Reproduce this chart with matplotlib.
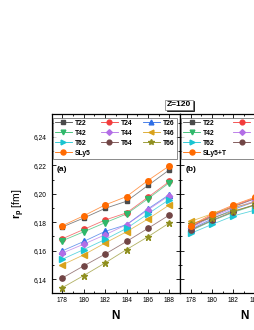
import matplotlib
matplotlib.use("Agg")
import matplotlib.pyplot as plt
from matplotlib.ticker import MultipleLocator, FuncFormatter
import matplotlib.transforms as mtransforms

plt.rcParams['font.family'] = ['Liberation Sans', 'DejaVu Sans']
plt.rcParams['mathtext.fontset'] = 'custom'
plt.rcParams['mathtext.rm'] = 'Liberation Sans'
plt.rcParams['mathtext.bf'] = 'Liberation Sans:bold'

# ---------------- data ----------------
N = [178, 180, 182, 184, 186, 188]
labels = ['T22', 'T24', 'T26', 'T42', 'T44', 'T46', 'T62', 'T64', 'T66']

a_T22 = [6.1767, 6.1830, 6.1898, 6.1948, 6.2059, 6.2169]
a_T24 = [6.1684, 6.1750, 6.1816, 6.1866, 6.1976, 6.2087]
a_T26 = [6.1599, 6.1665, 6.1736, 6.1783, 6.1894, 6.1995]
a_T42 = [6.1670, 6.1733, 6.1797, 6.1858, 6.1965, 6.2078]
a_T44 = [6.1583, 6.1646, 6.1712, 6.1783, 6.1887, 6.1988]
a_T46 = [6.1500, 6.1571, 6.1654, 6.1733, 6.1823, 6.1922]
a_T62 = [6.1540, 6.1608, 6.1679, 6.1757, 6.1859, 6.1960]
a_T64 = [6.1408, 6.1493, 6.1576, 6.1665, 6.1757, 6.1851]
a_T66 = [6.1340, 6.1425, 6.1514, 6.1608, 6.1698, 6.1795]
a_SLy5 = [6.1776, 6.1846, 6.1922, 6.1981, 6.2094, 6.2197]

b_T22 = [6.1765, 6.1845, 6.1910, 6.1965, 6.2020, 6.2070]
b_T24 = [6.1770, 6.1850, 6.1915, 6.1970, 6.2025, 6.2075]
b_T26 = [6.1750, 6.1825, 6.1890, 6.1945, 6.2000, 6.2050]
b_T42 = [6.1740, 6.1810, 6.1870, 6.1920, 6.1970, 6.2020]
b_T44 = [6.1760, 6.1838, 6.1900, 6.1950, 6.2005, 6.2055]
b_T46 = [6.1806, 6.1860, 6.1905, 6.1940, 6.1985, 6.2030]
b_T62 = [6.1722, 6.1785, 6.1845, 6.1885, 6.1935, 6.1985]
b_T64 = [6.1745, 6.1815, 6.1875, 6.1925, 6.1975, 6.2025]
b_T66 = [6.1790, 6.1830, 6.1880, 6.1920, 6.1965, 6.2010]
b_SLy5T = [6.1776, 6.1858, 6.1922, 6.1976, 6.2030, 6.2080]

# ---------------- styles ----------------
colors = {'T22': '#4a4a4a', 'T24': '#f23c3c', 'T26': '#2e6ee6',
          'T42': '#2fb86a', 'T44': '#b36ee6', 'T46': '#d9a21b',
          'T62': '#19c4d1', 'T64': '#714545', 'T66': '#8f8f1f',
          'ref': '#ff6a00'}
markers = {'T22': 's', 'T24': 'o', 'T26': '^', 'T42': 'v', 'T44': 'D',
           'T46': '<', 'T62': '>', 'T64': 'o', 'T66': '*', 'ref': 'o'}
msize = {'T22': 3.4, 'T24': 3.8, 'T26': 3.8, 'T42': 3.8, 'T44': 3.2,
         'T46': 3.8, 'T62': 3.8, 'T64': 3.8, 'T66': 4.6, 'ref': 4.0}

W, H = 255, 330
fig = plt.figure(figsize=(W / 100, H / 100), dpi=100)
left, right_a = 51.7, 180.0
top, bot = 114.3, 293.3
aw = (right_a - left) / W
ah = (bot - top) / H
ax_a = fig.add_axes([left / W, 1 - bot / H, aw, ah])
ax_b = fig.add_axes([right_a / W, 1 - bot / H, aw, ah])


def draw(ax, series, reflabel, tag):
    for lab, vals in series:
        key = 'ref' if lab == reflabel else lab
        c = colors[key]
        ax.plot(N, vals, color=c, lw=0.6, alpha=0.7, zorder=2)
        ax.plot(N, vals, ls='none', marker=markers[key], ms=msize[key],
                color=c, mec=c, zorder=3)
    handles = []
    for lab, vals in series:
        key = 'ref' if lab == reflabel else lab
        c = colors[key]
        h, = ax.plot([], [], color=c, lw=0.6, marker=markers[key],
                     ms=msize[key] * 0.9, mec=c, label=lab)
        handles.append(h)
    order = [0, 3, 6, 9, 1, 4, 7, 2, 5, 8]
    hs = [handles[i] for i in order]
    ls = [series[i][0] for i in order]
    leg = ax.legend(hs, ls, ncol=3, loc='upper left',
                    bbox_to_anchor=(0.008, 0.982, 0.966, 0), mode='expand',
                    prop={'weight': 'bold', 'size': 4.9},
                    frameon=True, fancybox=False, edgecolor='#333333',
                    handlelength=2.5, handletextpad=0.45, labelspacing=0.45,
                    borderpad=0.3, borderaxespad=0, columnspacing=0.6)
    leg.get_frame().set_linewidth(0.5)
    ax.text(0.04, 0.69, tag, transform=ax.transAxes, fontsize=6,
            fontweight='bold', ha='left', va='center')
    ax.set_xlim(177, 189)
    ax.set_ylim(6.13, 6.256)
    ax.xaxis.set_major_locator(MultipleLocator(2))
    ax.xaxis.set_minor_locator(MultipleLocator(1))
    ax.yaxis.set_major_locator(MultipleLocator(0.02))
    ax.yaxis.set_minor_locator(MultipleLocator(0.01))
    ax.tick_params(which='both', direction='in', top=True, right=True,
                   width=0.6, labelsize=4.8)
    ax.tick_params(which='major', length=2.6, pad=2.5)
    ax.tick_params(which='minor', length=1.4)
    for s in ax.spines.values():
        s.set_linewidth(0.9)
    ax.set_xlabel('N', fontsize=8.5, fontweight='bold')
    ax.xaxis.set_label_coords(0.5, -0.095)


series_a = [('T22', a_T22), ('T24', a_T24), ('T26', a_T26),
            ('T42', a_T42), ('T44', a_T44), ('T46', a_T46),
            ('T62', a_T62), ('T64', a_T64), ('T66', a_T66),
            ('SLy5', a_SLy5)]
series_b = [('T22', b_T22), ('T24', b_T24), ('T26', b_T26),
            ('T42', b_T42), ('T44', b_T44), ('T46', b_T46),
            ('T62', b_T62), ('T64', b_T64), ('T66', b_T66),
            ('SLy5+T', b_SLy5T)]

draw(ax_a, series_a, 'SLy5', '(a)')
draw(ax_b, series_b, 'SLy5+T', '(b)')

ax_a.yaxis.set_major_formatter(FuncFormatter(lambda v, p: f'{v:.2f}'.replace('.', ',')))
ax_a.tick_params(axis='y', pad=3.5)
ax_b.tick_params(labelleft=False)
ax_a.set_ylabel(r'$\mathbf{r_p}$ [fm]', fontsize=7.5)
ax_a.yaxis.set_label_coords(-0.19, 0.5)

# Z=120 box with shadow
zx, zy = 179 / W, 1 - 105 / H
shadow_tr = mtransforms.offset_copy(fig.transFigure, fig=fig, x=1.5, y=-1.5, units='dots')
fig.text(zx, zy, 'Z=120', transform=shadow_tr, fontsize=6, fontweight='bold',
         ha='center', va='center', color='black',
         bbox=dict(boxstyle='square,pad=0.18', fc='black', ec='black', lw=0.5))
fig.text(zx, zy, 'Z=120', fontsize=6, fontweight='bold', ha='center', va='center',
         bbox=dict(boxstyle='square,pad=0.18', fc='white', ec='#777777', lw=0.5))

fig.savefig('out.png', dpi=100)
